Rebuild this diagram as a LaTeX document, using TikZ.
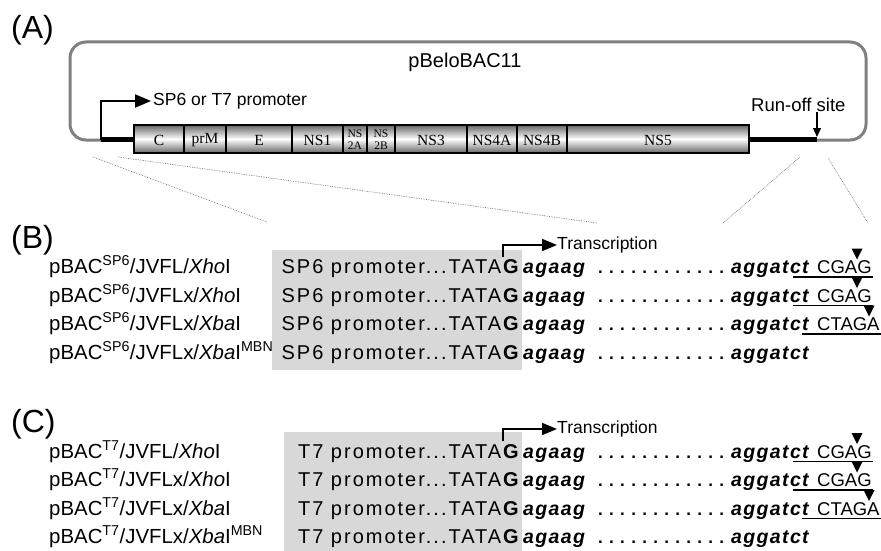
\documentclass[tikz,border=0pt]{standalone}
\usepackage{fontspec}
\setmainfont{Liberation Sans}
\newfontfamily\seqfont[LetterSpace=10]{Liberation Sans}
\newfontfamily\rnafont[LetterSpace=7]{Liberation Sans}
\newfontfamily\genefont{Liberation Serif}
\usetikzlibrary{arrows.meta,positioning,calc}
\definecolor{frame}{HTML}{808080}
\definecolor{seqbg}{HTML}{D8D8D8}
\definecolor{guide}{HTML}{787878}

\begin{document}
\begin{tikzpicture}[
  x=1pt, y=-1pt,
  >=Triangle,
  panel/.style={font=\fontsize{32}{34}\selectfont, anchor=west, inner sep=0},
  lab/.style={font=\fontsize{17.5}{19}\selectfont, inner sep=0},
  gene/.style={font=\genefont\fontsize{15.5}{16}\selectfont, inner sep=0},
  genesmall/.style={font=\genefont\fontsize{11.5}{11.5}\selectfont, align=center, inner sep=0},
  segment/.style={draw=black, line width=1.8pt},
  bar/.style={top color=black!60, bottom color=black!60, middle color=white},
  plasmid/.style={draw=frame, line width=3pt, rounded corners=16pt},
  backbone/.style={line width=4.5pt, black},
  tssarrow/.style={line width=1.8pt, -{Triangle[length=16pt,width=13pt]}, shorten >=2pt},
  cutarrow/.style={line width=1.3pt, -{Triangle[length=9pt,width=8pt]}},
  guide/.style={draw=guide, densely dotted, line width=0.7pt},
  clone/.style={font=\fontsize{20.4}{23}\selectfont, anchor=base west, inner sep=0},
  seq/.style={font=\seqfont\fontsize{20}{22}\selectfont, anchor=base east, inner sep=0},
  rna/.style={font=\rnafont\fontsize{19.5}{21}\selectfont\bfseries\itshape, anchor=base west, inner sep=0},
  dotrow/.style={font=\fontsize{17}{19}\selectfont\bfseries, anchor=base west, inner sep=0},
  site/.style={font=\fontsize{18.5}{20}\selectfont, anchor=base west, inner sep=0},
  uline/.style={line width=1.6pt},
  cutmark/.style={fill=black},
  txlabel/.style={font=\fontsize{17.5}{19}\selectfont, anchor=west, inner sep=0},
  txarrow/.style={line width=1.6pt, -{Triangle[length=15pt,width=12pt]}},
]
\useasboundingbox (0,0) rectangle (881,551);

% (A) plasmid map
\node[panel] (pA) at (11,30) {(A)};
\draw[plasmid] (101,140) -- (70,140) -- (70,42) -- (866,42) -- (866,140) -- (817,140);
\node[lab, font=\fontsize{20}{22}\selectfont] (bac) at (465,62) {pBeloBAC11};

\draw[backbone] (101,139.5) -- (134,139.5);
\draw[backbone] (749,139.5) -- (817,139.5);

\shade[bar] (134,125) rectangle (749,153);
\foreach \xa/\xb/\gname in {134/184/C, 184/226/prM, 226/292/E, 292/343/NS1,
    395/467/NS3, 467/517/NS4A, 517/567/NS4B, 567/749/NS5} {
  \draw[segment] (\xa,125) rectangle (\xb,153);
  \node[gene] (g\gname) at ({(\xa+\xb)/2},140) {\gname};
}
\draw[segment] (343,125) rectangle (367,153);
\node[genesmall] (gNStwoA) at (355,139.5) {NS\\2A};
\draw[segment] (367,125) rectangle (395,153);
\node[genesmall] (gNStwoB) at (381,139.5) {NS\\2B};
\draw[segment, line width=2.6pt] (134,125) rectangle (749,153);

\coordinate (tss) at (101,140);
\node[lab, anchor=west] (prom) at (153,101) {SP6 or T7 promoter};
\draw[tssarrow] (tss) |- (prom.west);

\coordinate (runoffpt) at (817,137);
\node[lab, anchor=west, font=\fontsize{18.5}{20}\selectfont] (runoff) at (751,105) {Run-off site};
\draw[cutarrow] (runoff.south -| runoffpt) -- (runoffpt);

% zoom guides
\coordinate (gl1) at (93,157);
\coordinate (gl2) at (118,157);
\coordinate (gr1) at (800,157);
\coordinate (gr2) at (828,158);
\coordinate (bl1) at (267,222);
\coordinate (bl2) at (597,223);
\coordinate (br1) at (723,223);
\coordinate (br2) at (868,223);
\draw[guide] (gl1) -- (bl1);
\draw[guide] (gl2) -- (bl2);
\draw[guide] (gr1) -- (br1);
\draw[guide] (gr2) -- (br2);

% (B) SP6 constructs
\node[panel] (pB) at (11,240) {(B)};
\fill[seqbg] (272,250) rectangle (522,370);

\coordinate (btss) at (503,257);
\node[txlabel] (btx) at (557,245) {Transcription};
\draw[txarrow] (btss) |- (btx.west);

\node[clone] (bc1) at (49,273.5) {pBAC\textsuperscript{SP6}/JVFL/\textit{Xho}I};
\node[clone] (bc2) at (49,302) {pBAC\textsuperscript{SP6}/JVFLx/\textit{Xho}I};
\node[clone] (bc3) at (49,330.5) {pBAC\textsuperscript{SP6}/JVFLx/\textit{Xba}I};
\node[clone] (bc4) at (49,359) {pBAC\textsuperscript{SP6}/JVFLx/\textit{Xba}I\textsuperscript{MBN}};

\foreach \yb [count=\i] in {273.5,302,330.5,359} {
  \node[seq] (bprom\i) at (521,\yb) {SP6 promoter...TATA\textbf{G}};
  \node[rna] (bfive\i) at (523,\yb) {agaag};
  \node[dotrow] (bdots\i) at (598,\yb) {. . . . . . . . . . . .};
  \node[rna] (bthree\i) at (731,\yb) {aggatct};
}
\foreach \yb/\sitetxt/\ux/\ex/\mx [count=\i] in {273.5/CGAG/793/873/857,
    302/CGAG/793/873/857, 330.5/CTAGA/802/881/869} {
  \node[site] (bsite\i) at (817,\yb) {\sitetxt};
  \draw[uline] (\ux,{\yb+3.5}) -- (\ex,{\yb+3.5});
  \fill[cutmark] (\mx,{\yb-14}) -- ({\mx-5.5},{\yb-25}) -- ({\mx+5.5},{\yb-25}) -- cycle;
}

% (C) T7 constructs
\node[panel] (pC) at (11,424) {(C)};
\fill[seqbg] (284,432) rectangle (522,551);

\coordinate (ctss) at (503,441);
\node[txlabel] (ctx) at (557,429) {Transcription};
\draw[txarrow] (ctss) |- (ctx.west);

\node[clone] (cc1) at (49,458) {pBAC\textsuperscript{T7}/JVFL/\textit{Xho}I};
\node[clone] (cc2) at (49,486.5) {pBAC\textsuperscript{T7}/JVFLx/\textit{Xho}I};
\node[clone] (cc3) at (49,515) {pBAC\textsuperscript{T7}/JVFLx/\textit{Xba}I};
\node[clone] (cc4) at (49,543.5) {pBAC\textsuperscript{T7}/JVFLx/\textit{Xba}I\textsuperscript{MBN}};

\foreach \yb [count=\i] in {458,486.5,515,543.5} {
  \node[seq] (cprom\i) at (521,\yb) {T7 promoter...TATA\textbf{G}};
  \node[rna] (cfive\i) at (523,\yb) {agaag};
  \node[dotrow] (cdots\i) at (598,\yb) {. . . . . . . . . . . .};
  \node[rna] (cthree\i) at (731,\yb) {aggatct};
}
\foreach \yb/\sitetxt/\ux/\ex/\mx [count=\i] in {458/CGAG/793/873/857,
    486.5/CGAG/793/873/857, 515/CTAGA/802/881/869} {
  \node[site] (csite\i) at (817,\yb) {\sitetxt};
  \draw[uline] (\ux,{\yb+3.5}) -- (\ex,{\yb+3.5});
  \fill[cutmark] (\mx,{\yb-14}) -- ({\mx-5.5},{\yb-25}) -- ({\mx+5.5},{\yb-25}) -- cycle;
}

\end{tikzpicture}
\end{document}
